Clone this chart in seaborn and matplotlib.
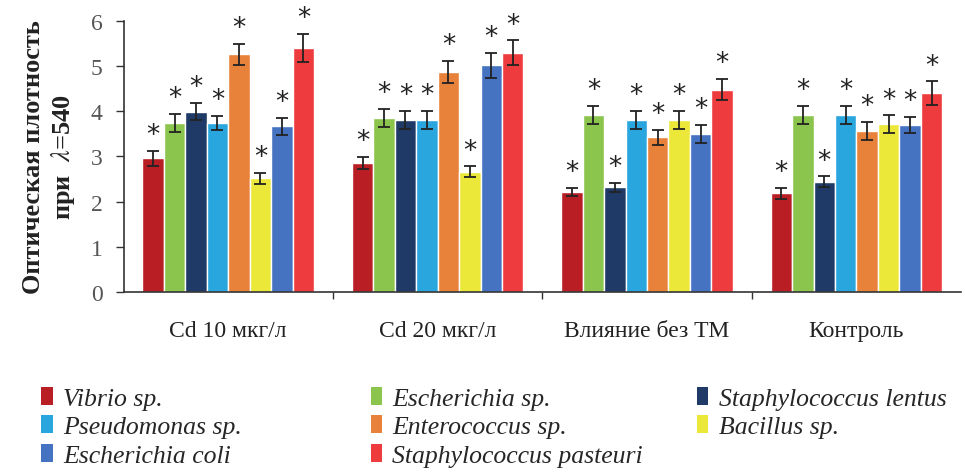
import numpy as np
import pandas as pd
import seaborn as sns
import matplotlib.pyplot as plt
from matplotlib.patches import Patch, Rectangle

categories = ["Cd 10 мкг/л", "Cd 20 мкг/л", "Влияние без ТМ", "Контроль"]
species = ["Vibrio sp.", "Escherichia sp.", "Staphylococcus lentus",
           "Pseudomonas sp.", "Enterococcus sp.", "Bacillus sp.",
           "Escherichia coli", "Staphylococcus pasteuri"]

vibrio = [2.96, 2.86, 2.22, 2.18]
escherichia_sp = [3.74, 3.85, 3.92, 3.92]
staph_lentus = [3.99, 3.81, 2.32, 2.44]
pseudomonas = [3.74, 3.81, 3.81, 3.92]
enterococcus = [5.26, 4.87, 3.42, 3.56]
bacillus = [2.52, 2.66, 3.81, 3.71]
e_coli = [3.67, 5.02, 3.49, 3.70]
staph_pasteuri = [5.40, 5.30, 4.48, 4.40]

err_vibrio = [0.17, 0.13, 0.09, 0.13]
err_escherichia_sp = [0.20, 0.20, 0.20, 0.20]
err_staph_lentus = [0.19, 0.20, 0.10, 0.12]
err_pseudomonas = [0.16, 0.20, 0.20, 0.20]
err_enterococcus = [0.24, 0.24, 0.17, 0.20]
err_bacillus = [0.12, 0.12, 0.20, 0.20]
err_e_coli = [0.19, 0.28, 0.20, 0.18]
err_staph_pasteuri = [0.32, 0.27, 0.24, 0.26]

colors = ["#B81E24", "#8CC54E", "#1F3A66", "#2AA6DF",
          "#E8823A", "#ECE83A", "#4573C2", "#EE3C3E"]

values = [vibrio, escherichia_sp, staph_lentus, pseudomonas,
          enterococcus, bacillus, e_coli, staph_pasteuri]
errors = [err_vibrio, err_escherichia_sp, err_staph_lentus, err_pseudomonas,
          err_enterococcus, err_bacillus, err_e_coli, err_staph_pasteuri]

rows = []
for s, vals, errs in zip(species, values, errors):
    for c, v, e in zip(categories, vals, errs):
        rows.append({"cat": c, "species": s, "val": v, "err": e})
df = pd.DataFrame(rows)

sns.set_style("white")
plt.rcParams['font.family'] = ['Liberation Serif', 'DejaVu Serif']
plt.rcParams['mathtext.fontset'] = 'stix'

fig = plt.figure(figsize=(9.65, 4.77), dpi=100)
ax = fig.add_axes([0.128, 0.386, 0.868, 0.568])

WIDTH = 0.82
sns.barplot(data=df, x="cat", y="val", hue="species", hue_order=species,
            order=categories, palette=colors, errorbar=None, width=WIDTH,
            gap=0, saturation=1, legend=False, ax=ax)

n = len(species)
bw = WIDTH / n
for p in ax.patches:
    if not isinstance(p, Rectangle):
        continue
    h = p.get_height()
    if h <= 0:
        continue
    x = p.get_x() + p.get_width() / 2
    ci = int(round(x))
    hi = int(round((x - ci + WIDTH / 2 - bw / 2) / bw))
    if not (0 <= ci < len(categories) and 0 <= hi < n):
        continue
    e = errors[hi][ci]
    ax.errorbar(x, h, yerr=e, fmt='none', ecolor='#222222',
                elinewidth=1.3, capsize=4, capthick=1.3, zorder=3)
    ax.annotate("*", (x, h + e), xytext=(0, 2), textcoords='offset points',
                ha='center', va='bottom', fontsize=19, color='#222222',
                family='DejaVu Sans')

ax.set_ylim(0, 6)
ax.set_xlim(-0.5, 3.5)
ax.set_yticks(range(0, 7))
ax.tick_params(axis='y', which='major', direction='out', length=6, width=1,
               color='#333333', labelsize=17, labelcolor='#555555', left=True, pad=9)
ax.tick_params(axis='x', which='major', length=0, labelsize=17,
               labelcolor='#222222', pad=20)
ax.set_xticks([0.5, 1.5, 2.5], minor=True)
ax.tick_params(axis='x', which='minor', direction='out', length=5, width=1,
               color='#333333', bottom=True)
ax.set_xlabel("")
ax.set_ylabel("Оптическая плотность\nпри  $\\lambda$=540", fontsize=19,
              fontweight='bold', color='#222222', labelpad=10,
              linespacing=1.2)
for side in ['top', 'right']:
    ax.spines[side].set_visible(False)
for side in ['left', 'bottom']:
    ax.spines[side].set_color('#333333')
    ax.spines[side].set_linewidth(1.2)

columns = [[0, 3, 6], [1, 4, 7], [2, 5]]
col_x = [0.043, 0.384, 0.722]
for cols, cx in zip(columns, col_x):
    handles = [Patch(facecolor=colors[k], edgecolor='none') for k in cols]
    labels = [species[k] for k in cols]
    fig.legend(handles, labels, ncol=1, loc='upper left',
               bbox_to_anchor=(cx, 0.187), frameon=False,
               prop={'family': 'Liberation Serif', 'style': 'italic', 'size': 18.5},
               handlelength=0.45, handleheight=0.7, handletextpad=0.4,
               labelspacing=0.22, borderaxespad=0, borderpad=0)

fig.savefig("out.png", dpi=100)
